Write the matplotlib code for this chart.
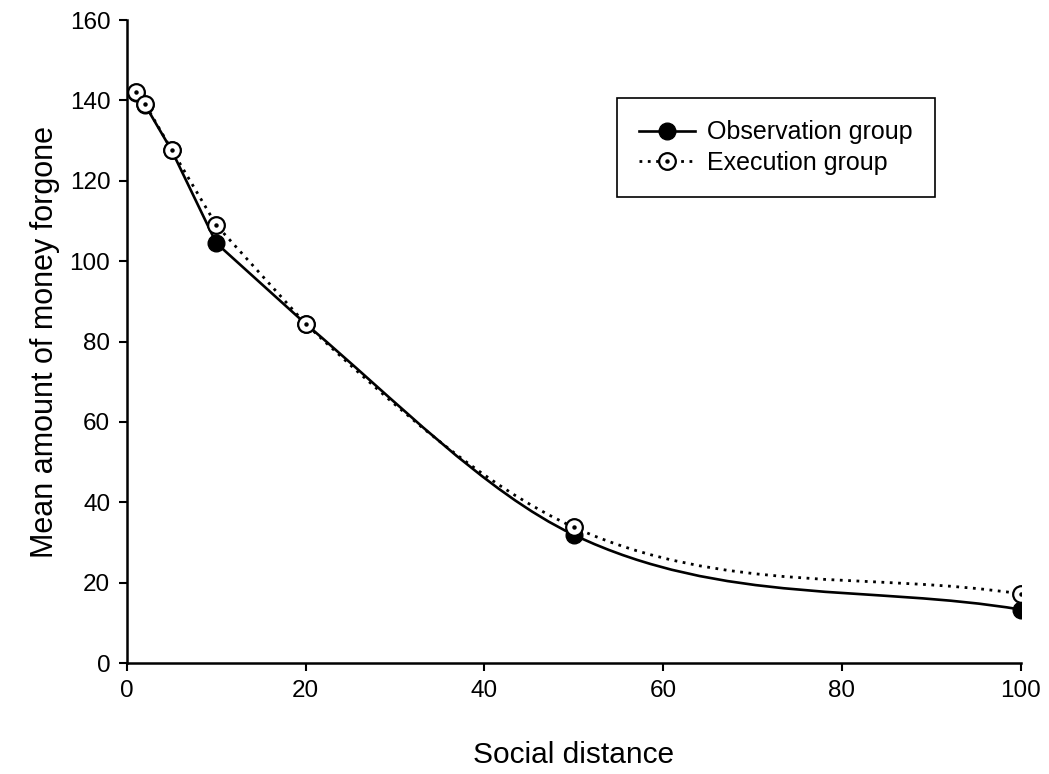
import numpy as np
import matplotlib.pyplot as plt
from matplotlib.path import Path
from matplotlib.patches import PathPatch
from matplotlib.lines import Line2D
from matplotlib.legend_handler import HandlerTuple

plt.rcParams['font.family'] = ['Liberation Sans', 'DejaVu Sans']

# --- data ---
social_distance = [1, 2, 5, 10, 20, 50, 100]
observation = [141.8, 139.0, 127.6, 104.5, 84.4, 31.9, 13.3]
execution = [142.2, 139.2, 127.8, 109.0, 84.4, 33.8, 17.2]


def smooth_path(xs, ys, short_step=10):
    # cubic hermite curve (tangent = mean of neighbouring slopes) drawn as
    # bezier segments; short steps are joined with straight lines
    xs = np.asarray(xs, float)
    ys = np.asarray(ys, float)
    h = np.diff(xs)
    d = np.diff(ys) / h
    m = np.empty_like(xs)
    m[0], m[-1] = d[0], d[-1]
    m[1:-1] = (d[:-1] + d[1:]) / 2
    verts = [(xs[0], ys[0])]
    codes = [Path.MOVETO]
    for i in range(len(xs) - 1):
        if h[i] <= short_step:
            verts.append((xs[i + 1], ys[i + 1]))
            codes.append(Path.LINETO)
        else:
            verts += [(xs[i] + h[i] / 3, ys[i] + m[i] * h[i] / 3),
                      (xs[i + 1] - h[i] / 3, ys[i + 1] - m[i + 1] * h[i] / 3),
                      (xs[i + 1], ys[i + 1])]
            codes += [Path.CURVE4] * 3
    return Path(verts, codes)


dotted = (0, (1, 2))

fig = plt.figure(figsize=(10.49, 7.74), dpi=100)
ax = fig.add_axes([0.121, 0.1434, 0.852, 0.8306])

ax.add_patch(PathPatch(smooth_path(social_distance, observation), fill=False,
                       edgecolor='black', lw=1.9, joinstyle='round', zorder=2))
ax.add_patch(PathPatch(smooth_path(social_distance, execution), fill=False,
                       edgecolor='black', lw=2.0, linestyle=dotted,
                       capstyle='butt', zorder=2))

ax.plot(social_distance, observation, 'o', color='black', ms=12, zorder=3)
ax.plot(social_distance, execution, 'o', mfc='white', mec='black', mew=1.6,
        ms=12, zorder=4)
ax.plot(social_distance, execution, 'o', color='black', ms=2.2, zorder=5)

ax.set_xlim(0, 100)
ax.set_ylim(0, 160)
ax.set_xticks([0, 20, 40, 60, 80, 100])
ax.set_yticks(range(0, 161, 20))
for s in ['top', 'right']:
    ax.spines[s].set_visible(False)
for s in ['left', 'bottom']:
    ax.spines[s].set_linewidth(1.8)
ax.tick_params(direction='out', length=6, width=1.5, labelsize=17.5, pad=6)

ax.set_xlabel('Social distance', fontsize=21.5, labelpad=28)
ax.set_ylabel('Mean amount of money forgone', fontsize=22, labelpad=7)

# legend handles
h_obs = Line2D([], [], color='black', lw=1.9, marker='o', ms=12)
h_exe_line = Line2D([], [], color='black', lw=2.0, linestyle=dotted,
                    marker='o', mfc='white', mec='black', mew=1.6, ms=12)
h_exe_dot = Line2D([], [], linestyle='none', marker='o', color='black', ms=2.2)
leg = ax.legend([h_obs, (h_exe_line, h_exe_dot)],
                ['Observation group', 'Execution group'],
                handler_map={tuple: HandlerTuple(ndivide=1, pad=0)},
                loc='upper left', bbox_to_anchor=(0.548, 0.879),
                borderaxespad=0, fontsize=18, handlelength=2.25,
                fancybox=False, edgecolor='black', framealpha=1,
                borderpad=0.9, labelspacing=0.25, handletextpad=0.45)
leg.get_frame().set_linewidth(1.2)

fig.savefig('out.png', dpi=100)
